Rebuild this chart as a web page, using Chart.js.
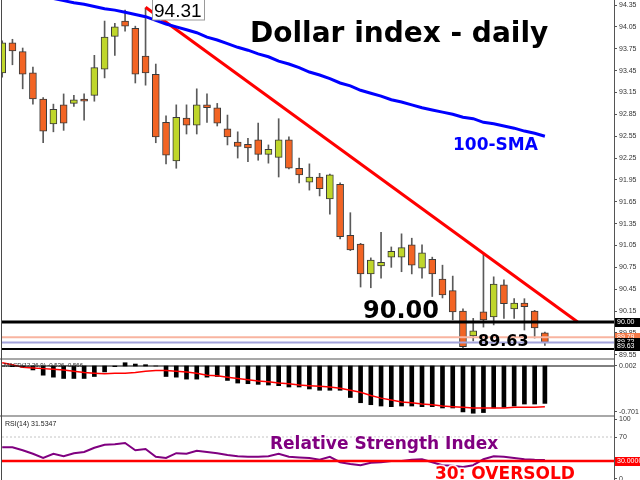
<!DOCTYPE html>
<html>
<head>
<meta charset="utf-8">
<script src="https://cdn.jsdelivr.net/npm/chart.js@4.4.0/dist/chart.umd.min.js"></script>
<style>
  body { margin: 0; background: #fff; }
  canvas { position: absolute; left: 0; }
  #main { top: 0; }
  #macd { top: 358px; }
  #rsi { top: 415px; }
</style>
</head>
<body>
<canvas id="main" width="640" height="358"></canvas>
<canvas id="macd" width="640" height="57"></canvas>
<canvas id="rsi" width="640" height="65"></canvas>
<script>
// daily candles, oldest first
const opens = [93.42, 93.83, 93.71, 93.42, 93.06, 92.72, 92.98, 93.00, 93.06, 93.11,
  93.47, 93.92, 94.13, 94.03, 93.65, 93.40, 92.74, 92.21, 92.80, 92.70,
  92.98, 92.94, 92.65, 92.47, 92.44, 92.50, 92.30, 92.26, 92.50, 92.11,
  91.92, 91.99, 91.69, 91.89, 91.19, 91.07, 90.66, 90.77, 90.89, 90.89,
  91.06, 90.74, 90.86, 90.59, 90.43, 90.15, 89.81, 90.14, 90.07, 90.51,
  90.18, 90.26, 90.15, 89.85];
const highs = [93.86, 93.88, 93.76, 93.50, 93.08, 92.99, 93.13, 93.11, 93.13, 93.66,
  94.13, 94.10, 94.28, 94.06, 94.31, 93.54, 92.83, 92.98, 92.98, 93.20,
  93.13, 93.00, 92.84, 92.61, 92.52, 92.73, 92.43, 92.79, 92.54, 92.25,
  92.17, 92.04, 92.03, 91.91, 91.50, 91.08, 90.88, 91.23, 91.03, 91.21,
  91.15, 91.06, 90.89, 90.78, 90.63, 90.18, 90.05, 90.93, 90.62, 90.58,
  90.32, 90.32, 90.16, 89.86];
const lows = [93.36, 93.53, 93.20, 92.99, 92.46, 92.61, 92.63, 92.96, 92.77, 93.03,
  93.35, 93.66, 93.99, 93.28, 93.25, 92.46, 92.17, 92.11, 92.58, 92.58,
  92.74, 92.69, 92.43, 92.25, 92.20, 92.22, 92.18, 91.99, 92.10, 91.91,
  91.81, 91.73, 91.48, 91.14, 90.98, 90.48, 90.47, 90.60, 90.75, 90.69,
  90.66, 90.60, 90.35, 90.33, 90.03, 89.63, 89.74, 89.93, 89.96, 90.05,
  90.05, 89.89, 89.78, 89.68];
const closes = [93.83, 93.72, 93.40, 93.06, 92.62, 92.92, 92.73, 93.05, 93.03, 93.49,
  93.91, 94.05, 94.06, 93.40, 93.42, 92.54, 92.29, 92.81, 92.70, 92.98,
  92.94, 92.73, 92.54, 92.41, 92.39, 92.30, 92.37, 92.50, 92.11, 92.02,
  91.99, 91.83, 92.02, 91.17, 90.99, 90.66, 90.85, 90.82, 90.97, 91.02,
  90.78, 90.95, 90.66, 90.37, 90.14, 89.66, 89.88, 90.03, 90.52, 90.25,
  90.26, 90.21, 89.92, 89.72];
const sma100 = [94.58, 94.56, 94.53, 94.50, 94.47, 94.44, 94.41, 94.38, 94.36, 94.33,
  94.30, 94.28, 94.25, 94.22, 94.19, 94.14, 94.09, 94.05, 94.01, 93.97,
  93.91, 93.87, 93.82, 93.77, 93.73, 93.68, 93.64, 93.58, 93.54, 93.49,
  93.43, 93.39, 93.34, 93.28, 93.24, 93.18, 93.14, 93.10, 93.05, 93.02,
  92.98, 92.94, 92.91, 92.88, 92.85, 92.81, 92.79, 92.74, 92.72, 92.69,
  92.66, 92.62, 92.59, 92.55];
const trendline = [[14, 94.32], [56.2, 90.00]];
const levels = [90.00, 89.79, 89.72, 89.63];
const priceTicks = [94.35, 94.05, 93.75, 93.45, 93.15, 92.85, 92.55, 92.25, 91.95,
  91.65, 91.35, 91.05, 90.75, 90.45, 90.15, 89.85, 89.55];

const macdHist = [0.00, -0.01, -0.02, -0.06, -0.14, -0.17, -0.19, -0.19, -0.19, -0.16,
  -0.09, -0.01, 0.05, 0.03, 0.02, 0.00, -0.16, -0.17, -0.20, -0.20,
  -0.17, -0.16, -0.22, -0.26, -0.27, -0.28, -0.29, -0.30, -0.32, -0.32,
  -0.35, -0.37, -0.37, -0.37, -0.48, -0.56, -0.59, -0.61, -0.62, -0.61,
  -0.61, -0.62, -0.62, -0.64, -0.64, -0.70, -0.72, -0.71, -0.64, -0.63,
  -0.61, -0.58, -0.58, -0.57];
const macdSignal = [0.05, 0.02, -0.02, -0.03, -0.04, -0.05, -0.06, -0.08, -0.10, -0.11,
  -0.12, -0.11, -0.11, -0.10, -0.08, -0.07, -0.07, -0.08, -0.09, -0.11,
  -0.14, -0.15, -0.17, -0.19, -0.21, -0.23, -0.24, -0.26, -0.27, -0.29,
  -0.30, -0.31, -0.32, -0.34, -0.37, -0.40, -0.45, -0.49, -0.52, -0.55,
  -0.56, -0.58, -0.59, -0.61, -0.62, -0.63, -0.64, -0.64, -0.64, -0.64,
  -0.63, -0.63, -0.63, -0.62];
const macdTicks = [0.002, -0.701];

const rsi14 = [53, 53, 48, 42, 35, 42, 38, 43, 45, 52,
  57, 58, 60, 48, 50, 37, 35, 43, 42, 47,
  45, 43, 40, 38, 37, 37, 38, 42, 37, 36,
  35, 32, 37, 28, 25, 23, 27, 28, 30, 30,
  32, 33, 28, 23, 22, 20, 23, 33, 38, 37,
  35, 33, 32, 31.5];
const rsiTicks = [100, 70, 30, 0];
const rsiLevels = [70, 30];

Chart.defaults.font.family = '"Liberation Sans", Arial, sans-serif';
Chart.defaults.animation = false;
Chart.defaults.plugins.legend.display = false;
Chart.defaults.plugins.tooltip.enabled = false;

const X_MIN = -0.02, X_MAX = 59.75;
const idx = closes.map((c, i) => i);
const ORANGE = '#f26424', GREEN = '#bfd62b';

const xAxis = { type: 'linear', min: X_MIN, max: X_MAX, display: false, offset: false };

function rightAxis(min, max, values, fmt) {
  return {
    position: 'right', min: min, max: max,
    afterBuildTicks: s => { s.ticks = values.map(v => ({ value: v })); },
    afterFit: s => { s.width = 26; s.paddingTop = 0; s.paddingBottom = 0; },
    grid: { drawOnChartArea: false, tickLength: 3, color: '#555' },
    border: { color: '#555' },
    ticks: { autoSkip: false, padding: 2, color: '#333',
      font: { size: 7 }, callback: fmt }
  };
}

function hLine(v, color, width, dash) {
  return { type: 'line', data: [{ x: X_MIN, y: v }, { x: X_MAX, y: v }],
    borderColor: color, borderWidth: width, borderDash: dash || [],
    pointRadius: 0, order: 0 };
}

function text(ctx, str, x, y, font, color, halo) {
  ctx.save();
  ctx.font = font;
  ctx.textBaseline = 'alphabetic';
  if (halo) {
    ctx.lineJoin = 'round';
    ctx.lineWidth = 3;
    ctx.strokeStyle = 'rgba(255,255,255,0.9)';
    ctx.strokeText(str, x, y);
  }
  ctx.fillStyle = color;
  ctx.fillText(str, x, y);
  ctx.restore();
}

function axisBox(chart, value, str, bg, fg) {
  const ctx = chart.ctx;
  const y = chart.scales.y.getPixelForValue(value);
  ctx.save();
  ctx.fillStyle = bg;
  ctx.fillRect(615, Math.round(y) - 4, 25, 9);
  ctx.fillStyle = fg;
  ctx.font = '7px "Liberation Sans"';
  ctx.textBaseline = 'middle';
  ctx.fillText(str, 617, Math.round(y) + 0.5);
  ctx.restore();
}

const frame = {
  id: 'frame',
  beforeDraw(chart) {
    chart.ctx.save();
    chart.ctx.fillStyle = '#fff';
    chart.ctx.fillRect(0, 0, chart.width, chart.height);
    chart.ctx.restore();
  },
  afterDraw(chart, args, opts) {
    const ctx = chart.ctx, a = chart.chartArea;
    ctx.save();
    if (opts.topRule) {
      ctx.fillStyle = '#a8a8a8';
      ctx.fillRect(0, 0, a.right, 2);
    }
    ctx.fillStyle = '#4a4a4a';
    ctx.fillRect(1, 0, 1, chart.height);
    ctx.restore();
    if (opts.draw) opts.draw(chart);
  }
};

// ---- price panel ----
const levelStyle = [['#000', 3], ['#f8b4a0', 2], ['#a4a4dc', 2], ['#000', 2]];

new Chart(document.getElementById('main'), {
  type: 'bar',
  data: {
    datasets: [
      ...levels.map((v, k) => hLine(v, levelStyle[k][0], levelStyle[k][1])),
      { type: 'line', data: idx.map(i => ({ x: i, y: sma100[i] })),
        borderColor: '#0000ff', borderWidth: 3, pointRadius: 0, order: 1 },
      { type: 'line', data: trendline.map(p => ({ x: p[0], y: p[1] })),
        borderColor: '#ff0000', borderWidth: 3, pointRadius: 0, order: 1 },
      { data: idx.map(i => ({ x: i, y: [opens[i], closes[i]] })),
        backgroundColor: idx.map(i => closes[i] >= opens[i] ? GREEN : ORANGE),
        borderColor: '#3a3a3a', borderWidth: 1, borderSkipped: false,
        barThickness: 7, grouped: false, order: 2 },
      { data: idx.map(i => ({ x: i, y: [lows[i], highs[i]] })),
        backgroundColor: '#5a5a5a', barThickness: 1, grouped: false, order: 3 }
    ]
  },
  options: {
    responsive: false,
    events: [],
    layout: { padding: { left: 2, top: 0, bottom: 0, right: 0 } },
    scales: {
      x: xAxis,
      y: rightAxis(89.506, 94.419, priceTicks, v => v.toFixed(2))
    },
    plugins: {
      frame: {
        draw(chart) {
          const ctx = chart.ctx;
          text(ctx, 'Dollar index - daily', 250, 42, 'bold 28px "DejaVu Sans"', '#000', true);
          text(ctx, '100-SMA', 453, 150, 'bold 17px "DejaVu Sans"', '#0000ff', true);
          text(ctx, '90.00', 363, 318, 'bold 24px "DejaVu Sans"', '#000', true);
          text(ctx, '89.63', 478, 346, 'bold 16px "DejaVu Sans"', '#000', false);
          ctx.save();
          ctx.fillStyle = '#fff';
          ctx.fillRect(152, -1, 52, 21);
          ctx.strokeStyle = '#9a9a9a';
          ctx.lineWidth = 1;
          ctx.strokeRect(152.5, -0.5, 52, 20.5);
          ctx.restore();
          text(ctx, '94.31', 154, 17, '19px "Liberation Sans"', '#000', false);
          axisBox(chart, levels[0], '90.00', '#000', '#fff');
          axisBox(chart, levels[1], '89.79', '#f47a48', '#fff');
          axisBox(chart, levels[2], '89.72', '#000', '#fff');
          axisBox(chart, levels[3] + 0.04, '89.63', '#000', '#fff');
        }
      }
    }
  },
  plugins: [frame]
});

// ---- MACD panel ----
new Chart(document.getElementById('macd'), {
  type: 'bar',
  data: {
    datasets: [
      hLine(0, '#000', 1),
      { type: 'line', data: idx.map(i => ({ x: i, y: macdSignal[i] })),
        borderColor: '#ff0000', borderWidth: 1.5, pointRadius: 0, order: 0 },
      { data: idx.map(i => ({ x: i, y: macdHist[i] })),
        backgroundColor: '#000', barThickness: 4, grouped: false, order: 1 }
    ]
  },
  options: {
    responsive: false,
    events: [],
    layout: { padding: { left: 2, top: 0, bottom: 0, right: 0 } },
    scales: {
      x: xAxis,
      y: rightAxis(-0.747, 0.122, macdTicks, v => v.toFixed(3))
    },
    plugins: {
      frame: {
        topRule: true,
        draw(chart) {
          text(chart.ctx, 'MACD(12,26,9) -0.536 -0.566', 4, 9, '6px "Liberation Sans"', '#222', false);
        }
      }
    }
  },
  plugins: [frame]
});

// ---- RSI panel ----
new Chart(document.getElementById('rsi'), {
  type: 'line',
  data: {
    datasets: [
      hLine(rsiLevels[0], '#c4c4c4', 1, [2, 2]),
      hLine(rsiLevels[1], '#ff0000', 2.5),
      { data: idx.map(i => ({ x: i, y: rsi14[i] })),
        borderColor: '#800080', borderWidth: 2, pointRadius: 0, order: 1 }
    ]
  },
  options: {
    responsive: false,
    events: [],
    layout: { padding: { left: 2, top: 0, bottom: 0, right: 0 } },
    scales: {
      x: xAxis,
      y: rightAxis(-1.67, 106.7, rsiTicks, v => v === 30 ? '' : String(v))
    },
    plugins: {
      frame: {
        topRule: true,
        draw(chart) {
          const ctx = chart.ctx;
          text(ctx, 'RSI(14) 31.5347', 5, 11, '7px "Liberation Sans"', '#222', false);
          text(ctx, 'Relative Strength Index', 270, 34, 'bold 17px "DejaVu Sans"', '#800080', true);
          text(ctx, '30: OVERSOLD', 435, 64, 'bold 17px "DejaVu Sans"', '#ff0000', true);
          axisBox(chart, rsiLevels[1], '30.0000', '#ff0000', '#fff');
        }
      }
    }
  },
  plugins: [frame]
});
</script>
</body>
</html>
